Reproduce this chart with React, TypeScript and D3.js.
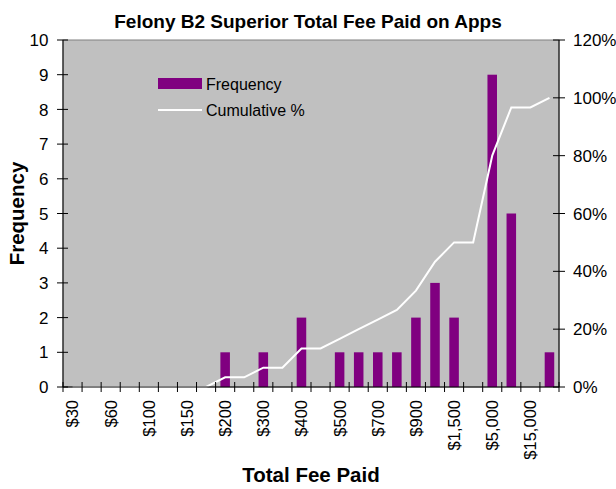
import React from "react";
import * as d3 from "d3";

const categories = ["$30","$40","$60","$80","$100","$125","$150","$175","$200","$250","$300","$350","$400","$450","$500","$600","$700","$800","$900","$1,000","$1,500","$2,500","$5,000","$10,000","$15,000","More"];
const frequency = [0,0,0,0,0,0,0,0,1,0,1,0,2,0,1,1,1,1,2,3,2,0,9,5,0,1];
const cumulative = [0,0,0,0,0,0,0,0,0.0333,0.0333,0.0667,0.0667,0.1333,0.1333,0.1667,0.2,0.2333,0.2667,0.3333,0.4333,0.5,0.5,0.8,0.9667,0.9667,1.0];
const leftTicks = [0,1,2,3,4,5,6,7,8,9,10];
const rightTicks = [0,0.2,0.4,0.6,0.8,1.0,1.2];

const W = 616, H = 489;
const L = 63, R = 559, T = 40, B = 387;
const FONT = "'Liberation Sans', Arial, sans-serif";

export default function App() {
  const x = d3.scaleBand<string>().domain(categories).range([L, R]).paddingInner(0.5).paddingOuter(0.25);
  const step = x.step();
  const yL = d3.scaleLinear().domain([0, 10]).range([B, T]);
  const yR = d3.scaleLinear().domain([0, 1.2]).range([B, T]);
  const cx = (c: string) => (x(c) as number) + x.bandwidth() / 2;
  const line = d3.line<number>().x((_, i) => cx(categories[i])).y(d => yR(d));
  const boundaries = d3.range(categories.length + 1).map(i => L + i * step);

  return (
    <svg width={W} height={H} style={{ position: "absolute", left: 0, top: 0, background: "#fff" }} fontFamily={FONT}>
      <text x={308} y={28} textAnchor="middle" fontSize={19} fontWeight="bold">Felony B2 Superior Total Fee Paid on Apps</text>
      <rect x={L} y={T} width={R - L} height={B - T} fill="#C0C0C0" stroke="#808080" strokeWidth={1} />
      {frequency.map((f, i) => f > 0 ? (
        <rect key={i} x={x(categories[i])} y={yL(f)} width={x.bandwidth()} height={B - yL(f)} fill="#800080" />
      ) : null)}
      <path d={line(cumulative) || ""} fill="none" stroke="#fff" strokeWidth={2} />
      <line x1={L} x2={L} y1={T} y2={B} stroke="#000" />
      <line x1={R} x2={R} y1={T} y2={B} stroke="#000" />
      <line x1={L} x2={R} y1={B} y2={B} stroke="#000" />
      {leftTicks.map(t => (
        <g key={"l" + t}>
          <line x1={L - 6} x2={L + 5} y1={yL(t)} y2={yL(t)} stroke="#000" />
          <text x={48.5} y={yL(t)} dy="0.36em" textAnchor="end" fontSize={17}>{t}</text>
        </g>
      ))}
      {rightTicks.map(t => (
        <g key={"r" + t}>
          <line x1={R - 6} x2={R + 6} y1={yR(t)} y2={yR(t)} stroke="#000" />
          <text x={573} y={yR(t)} dy="0.36em" textAnchor="start" fontSize={17}>{Math.round(t * 100) + "%"}</text>
        </g>
      ))}
      {boundaries.map((b, i) => (
        <line key={"b" + i} x1={b} x2={b} y1={B - 5} y2={B + 5} stroke="#000" />
      ))}
      {categories.map((c, i) => i % 2 === 0 ? (
        <text key={"c" + i} transform={`translate(${cx(c)},400) rotate(-90)`} dy="0.36em" textAnchor="end" fontSize={16.5}>{c}</text>
      ) : null)}
      <text x={311} y={482} textAnchor="middle" fontSize={20.5} fontWeight="bold">Total Fee Paid</text>
      <text transform={`translate(24,${(T + B) / 2}) rotate(-90)`} textAnchor="middle" fontSize={20.5} fontWeight="bold">Frequency</text>
      <rect x={158} y={78} width={44} height={11} fill="#800080" />
      <text x={206} y={84} dy="0.36em" fontSize={16}>Frequency</text>
      <line x1={158} x2={202} y1={110} y2={110} stroke="#fff" strokeWidth={2} />
      <text x={206} y={110} dy="0.36em" fontSize={16}>Cumulative %</text>
    </svg>
  );
}
